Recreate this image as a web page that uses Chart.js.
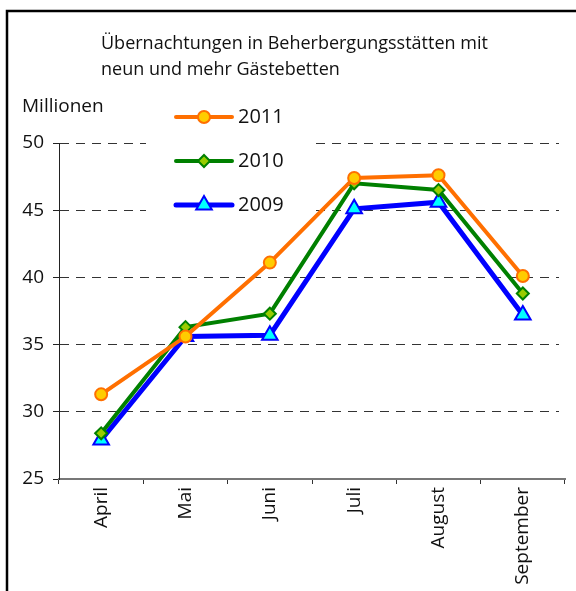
<!DOCTYPE html>
<html lang="de">
<head>
    <meta charset="UTF-8">
    <title>Übernachtungen</title>
    <script src="https://cdn.jsdelivr.net/npm/chart.js"></script>
    <style>
        html, body { margin: 0; padding: 0; background: #fff; }
        #wrap { width: 576px; height: 591px; position: relative; }
    </style>
</head>
<body>
<div id="wrap"><canvas id="chart"></canvas></div>
<script>
    const monate = ['April', 'Mai', 'Juni', 'Juli', 'August', 'September'];
    const werte2011 = [31.3, 35.6, 41.1, 47.4, 47.6, 40.1];
    const werte2010 = [28.4, 36.3, 37.3, 47.0, 46.5, 38.8];
    const werte2009 = [27.9, 35.6, 35.7, 45.1, 45.6, 37.2];
    const yTicks = [25, 30, 35, 40, 45, 50];
    const titelZeilen = ['Übernachtungen in Beherbergungsstätten mit', 'neun und mehr Gästebetten'];
    const einheit = 'Millionen';

    const FONT = '"Open Sans", "Liberation Sans", sans-serif';

    // Rahmen, Titel, Einheit und Legende selbst zeichnen
    const extras = {
        id: 'extras',
        beforeDatasetsDraw(chart) {
            const c = chart.ctx;
            c.save();
            c.fillStyle = '#fff';
            c.fillRect(146, 96, 166, 128);
            // Gitterlinien enden etwas vor dem rechten Achsenende
            c.fillRect(559, 135, 12, 340);
            c.restore();
        },
        afterDraw(chart) {
            const c = chart.ctx;
            c.save();
            c.strokeStyle = '#000';
            c.lineWidth = 2.5;
            c.beginPath();
            c.moveTo(7, 600);
            c.lineTo(7, 11);
            c.lineTo(580, 11);
            c.stroke();

            c.fillStyle = '#111';
            c.textBaseline = 'middle';
            c.font = '18px ' + FONT;
            c.fillText(titelZeilen[0], 101, 44);
            c.fillText(titelZeilen[1], 101, 70);
            c.font = '19px ' + FONT;
            c.fillText(einheit, 22, 107);

            chart.data.datasets.forEach((ds, i) => {
                const y = 117 + i * 44;
                c.strokeStyle = ds.borderColor;
                c.lineWidth = ds.borderWidth;
                c.lineCap = 'round';
                c.beginPath();
                c.moveTo(176, y);
                c.lineTo(232, y);
                c.stroke();
                c.fillStyle = ds.pointBackgroundColor;
                c.strokeStyle = ds.pointBorderColor;
                c.lineWidth = ds.pointBorderWidth;
                Chart.helpers.drawPoint(c, {
                    pointStyle: ds.pointStyle,
                    radius: ds.pointRadius,
                    rotation: 0,
                    borderWidth: ds.pointBorderWidth
                }, 204, y);
                c.fillStyle = '#111';
                c.font = '20px ' + FONT;
                c.fillText(ds.label, 238, y);
            });
            c.restore();
        }
    };

    new Chart(document.getElementById('chart'), {
        type: 'line',
        data: {
            labels: monate,
            datasets: [{
                label: '2011',
                data: werte2011,
                borderColor: '#ff6f00',
                borderWidth: 4,
                pointStyle: 'circle',
                pointRadius: 6,
                pointBackgroundColor: '#ffcc00',
                pointBorderColor: '#ff6f00',
                pointBorderWidth: 2
            }, {
                label: '2010',
                data: werte2010,
                borderColor: '#008000',
                borderWidth: 4,
                pointStyle: 'rectRot',
                pointRadius: 6,
                pointBackgroundColor: '#99cc00',
                pointBorderColor: '#008000',
                pointBorderWidth: 2
            }, {
                label: '2009',
                data: werte2009,
                borderColor: '#0000ff',
                borderWidth: 5,
                pointStyle: 'triangle',
                pointRadius: 9,
                pointBackgroundColor: '#00ffff',
                pointBorderColor: '#0000ff',
                pointBorderWidth: 2
            }]
        },
        options: {
            responsive: true,
            maintainAspectRatio: false,
            animation: false,
            layout: { padding: { left: 0, right: 9, top: 143, bottom: 0 } },
            plugins: {
                legend: { display: false },
                title: { display: false },
                tooltip: { enabled: false }
            },
            elements: { line: { tension: 0 } },
            scales: {
                x: {
                    offset: true,
                    afterFit: s => { s.height = 112; },
                    border: { display: true, color: '#777', width: 2 },
                    grid: {
                        offset: true,
                        drawOnChartArea: false,
                        drawTicks: true,
                        tickLength: 5,
                        tickColor: '#333'
                    },
                    ticks: {
                        minRotation: 90,
                        maxRotation: 90,
                        padding: 3,
                        color: '#111',
                        font: { family: FONT, size: 19 }
                    }
                },
                y: {
                    min: 25,
                    max: 50,
                    afterFit: s => { s.width = 59; },
                    afterBuildTicks: s => { s.ticks = yTicks.map(v => ({ value: v })); },
                    border: { display: true, color: '#222', width: 1, dash: [9, 7] },
                    grid: {
                        color: c => c.tick && c.tick.value === 25 ? 'rgba(0,0,0,0)' : '#333',
                        lineWidth: 1,
                        tickLength: 6,
                        tickColor: '#222',
                        tickBorderDash: []
                    },
                    ticks: {
                        padding: 9,
                        color: '#111',
                        font: { family: FONT, size: 19 }
                    }
                }
            }
        },
        plugins: [extras]
    });
</script>
</body>
</html>
